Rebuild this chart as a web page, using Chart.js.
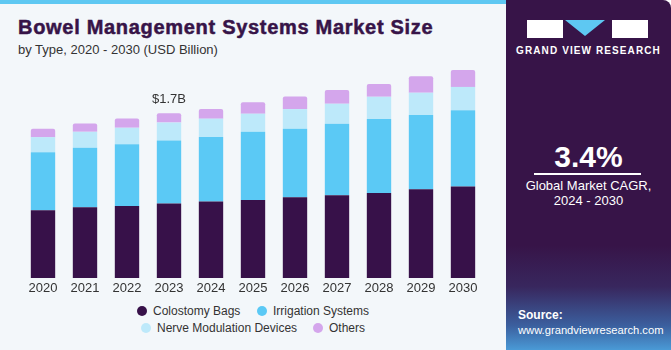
<!DOCTYPE html>
<html>
<head>
<meta charset="utf-8">
<script src="https://cdn.jsdelivr.net/npm/chart.js@4/dist/chart.umd.min.js"></script>
<style>
  html,body{margin:0;padding:0;}
  body{width:671px;height:350px;position:relative;overflow:hidden;background:#fff;font-family:"Liberation Sans",Arial,sans-serif;}
  .left{position:absolute;left:0;top:0;width:506px;height:350px;background:#f3f7fa;}
  .topbar{position:absolute;left:0;top:0;width:506px;height:4px;background:#5ec8f2;}
  .title{position:absolute;left:18px;top:16px;font-size:20px;font-weight:bold;color:#371448;letter-spacing:0.7px;white-space:nowrap;-webkit-text-stroke:0.5px #371448;}
  .sub{position:absolute;left:18px;top:42px;font-size:13px;color:#333;white-space:nowrap;}
  .chartbox{position:absolute;left:0;top:0;width:500px;height:300px;}
  .legend{position:absolute;left:0;top:303px;width:500px;font-size:12px;color:#333;}
  .lg{position:absolute;white-space:nowrap;line-height:16px;}
  .lg i{display:inline-block;width:10px;height:10px;border-radius:50%;margin-right:6px;vertical-align:-1px;}
  .right{position:absolute;left:506px;top:0;width:165px;height:350px;border-top-right-radius:8px;
    background:linear-gradient(to bottom,#371448 0%,#371448 70%,#38275e 82%,#3b5f9e 93%,#4a9ad6 100%);color:#fff;}
  .blk{position:absolute;background:#fff;}
  .tri{position:absolute;width:0;height:0;border-left:20px solid transparent;border-right:20px solid transparent;border-top:16px solid #5ec8f2;}
  .brand{position:absolute;left:0;width:165px;top:45px;text-align:center;font-size:10px;font-weight:bold;letter-spacing:1.1px;}
  .cagr{position:absolute;left:0;width:165px;top:140px;text-align:center;font-size:30px;font-weight:bold;}
  .rule{position:absolute;left:28px;width:107px;top:173px;height:1.5px;background:#fff;}
  .cap{position:absolute;left:0;width:165px;top:178px;text-align:center;font-size:13px;line-height:15px;}
  .src{position:absolute;left:12px;top:308px;font-size:11.2px;line-height:15px;}
  .src b{font-size:12px;}
</style>
</head>
<body>
<div class="left">
  <div class="topbar"></div>
  <div class="title">Bowel Management Systems Market Size</div>
  <div class="sub">by Type, 2020 - 2030 (USD Billion)</div>
  <div class="chartbox"><canvas id="chart" width="500" height="300"></canvas></div>
  <div class="legend" id="legend"></div>
</div>
<div class="right">
  <div class="blk" style="left:21px;top:20px;width:36px;height:18px;"></div>
  <div class="tri" style="left:59px;top:20px;"></div>
  <div class="blk" style="left:106px;top:20px;width:36px;height:18px;"></div>
  <div class="brand">GRAND VIEW RESEARCH</div>
  <div class="cagr">3.4%</div>
  <div class="rule"></div>
  <div class="cap">Global Market CAGR,<br>2024 - 2030</div>
  <div class="src"><b>Source:</b><br>www.grandviewresearch.com</div>
</div>
<script>
/* ── DATA ─────────────────────────────────────────────── */
const years = ['2020','2021','2022','2023','2024','2025','2026','2027','2028','2029','2030'];
const colostomyBags = [0.70,0.73,0.745,0.77,0.79,0.807,0.835,0.856,0.879,0.918,0.944];
const irrigationSystems = [0.60,0.615,0.636,0.65,0.666,0.704,0.707,0.738,0.763,0.766,0.79];
const nerveModulation = [0.155,0.165,0.171,0.186,0.19,0.186,0.203,0.206,0.23,0.23,0.24];
const others = [0.087,0.087,0.097,0.097,0.10,0.118,0.131,0.141,0.131,0.169,0.175];
const seriesNames = ['Colostomy Bags','Irrigation Systems','Nerve Modulation Devices','Others'];
const seriesColors = ['#371149','#5bc9f5','#bde9fa','#d4a6ec'];
const calloutIndex = 3;
const calloutText = '$1.7B';

/* ── CALLOUT PLUGIN ───────────────────────────────────── */
const callout = {
  id:'callout',
  afterDatasetsDraw(chart){
    const metas = chart.getSortedVisibleDatasetMetas();
    const top = metas[metas.length-1].data[calloutIndex];
    const ctx = chart.ctx;
    ctx.save();
    ctx.font = '13px "Liberation Sans", Arial, sans-serif';
    ctx.fillStyle = '#333';
    ctx.textAlign = 'center';
    ctx.textBaseline = 'middle';
    ctx.fillText(calloutText, top.x, top.y - 14);
    ctx.restore();
  }
};

const allSeries = [colostomyBags, irrigationSystems, nerveModulation, others];

new Chart(document.getElementById('chart'),{
  type:'bar',
  data:{
    labels:years,
    datasets:allSeries.map((d,i)=>({
      label:seriesNames[i], data:d, backgroundColor:seriesColors[i],
      borderWidth:0, barPercentage:0.58, categoryPercentage:1,
      borderRadius: i===3 ? {topLeft:2,topRight:2} : 0, borderSkipped:false
    }))
  },
  options:{
    responsive:false, animation:false,
    layout:{padding:{left:22,right:16,top:36,bottom:0}},
    plugins:{legend:{display:false},tooltip:{enabled:false}},
    scales:{
      x:{stacked:true,
         grid:{display:false,drawTicks:false}, border:{display:false},
         ticks:{font:{size:13,family:'"Liberation Sans", Arial, sans-serif'},color:'#333',padding:3},
         afterFit:s=>{ s.height = 22; }},
      y:{stacked:true,display:false,min:0,max:2.5}
    }
  },
  plugins:[callout]
});

/* ── LEGEND ───────────────────────────────────────────── */
const legendPos = [[137,0],[257,0],[141,17],[313,17]];
document.getElementById('legend').innerHTML = seriesNames.map((n,i)=>
  `<div class="lg" style="left:${legendPos[i][0]}px;top:${legendPos[i][1]}px"><i style="background:${seriesColors[i]}"></i>${n}</div>`).join('');
</script>
</body>
</html>
